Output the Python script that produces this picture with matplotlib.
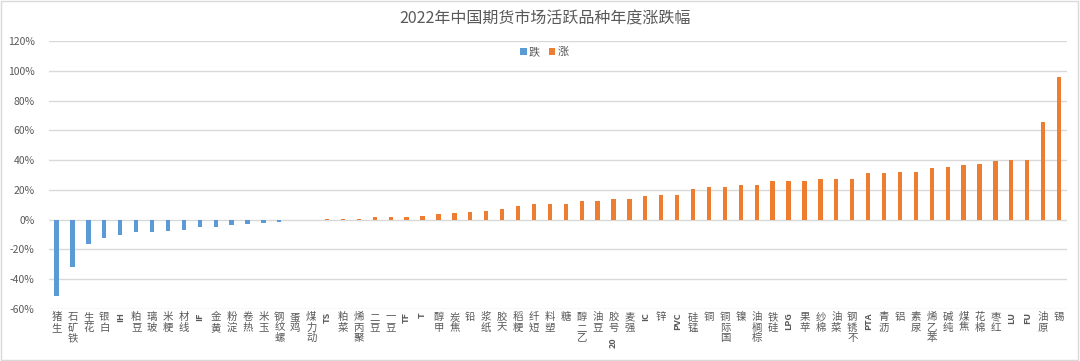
import matplotlib
matplotlib.use("Agg")
import matplotlib.pyplot as plt
from matplotlib.patches import Rectangle
from matplotlib.transforms import blended_transform_factory
import numpy as np

plt.rcParams["font.family"] = ["Noto Sans CJK SC", "DejaVu Sans"]

TITLE = "2022年中国期货市场活跃品种年度涨跌幅"

categories = [
    "生猪", "铁矿石", "花生", "白银", "IH", "豆粕", "玻璃", "粳米", "线材", "IF",
    "黄金", "淀粉", "热卷", "玉米", "螺纹钢", "鸡蛋", "动力煤", "TS", "菜粕", "聚丙烯",
    "豆二", "豆一", "TF", "T", "甲醇", "焦炭", "铅", "纸浆", "天胶", "粳稻",
    "短纤", "塑料", "糖", "乙二醇", "豆油", "20号胶", "强麦", "IC", "锌", "PVC",
    "锰硅", "铜", "国际铜", "镍", "棕榈油", "硅铁", "LPG", "苹果", "棉纱", "菜油",
    "不锈钢", "PTA", "沥青", "铝", "尿素", "苯乙烯", "纯碱", "焦煤", "棉花", "红枣",
    "LU", "FU", "原油", "锡",
]

# annual change, %
changes = [
    -51.0, -31.7, -16.4, -12.6, -10.1, -8.5, -8.5, -7.9, -6.7, -5.2,
    -5.0, -3.4, -2.9, -2.5, -1.6, -0.5, -0.2, 0.6, 0.8, 0.8,
    1.8, 1.8, 1.8, 2.7, 3.8, 4.2, 4.9, 5.6, 7.1, 9.1,
    10.4, 10.4, 10.7, 12.4, 12.4, 13.8, 13.8, 16.2, 16.7, 16.7,
    20.4, 21.8, 22.2, 23.1, 23.1, 25.8, 25.7, 26.3, 27.2, 27.2,
    27.2, 31.2, 31.5, 31.9, 32.4, 34.6, 35.3, 36.6, 37.5, 39.3,
    40.0, 40.4, 65.4, 96.0,
]

y_ticks = list(range(-60, 121, 20))

BLUE = "#5B9BD5"
ORANGE = "#ED7D31"
GRID = "#D9D9D9"
TEXT = "#595959"

x = np.arange(len(categories))
vals = np.array(changes)
down = vals < 0

fig = plt.figure(figsize=(10.8, 3.61), dpi=100)
ax = fig.add_axes([0.045, 0.144, 0.943, 0.742])

ax.bar(x[down], vals[down], width=0.27, color=BLUE, label="跌", zorder=3)
ax.bar(x[~down], vals[~down], width=0.27, color=ORANGE, label="涨", zorder=3)

ax.set_xlim(-0.5, len(categories) - 0.5)
ax.set_ylim(-60, 120)
ax.set_yticks(y_ticks)
ax.set_yticklabels([f"{v}%" for v in y_ticks])
ax.yaxis.grid(True, color=GRID, linewidth=1.0, zorder=0)
ax.tick_params(axis="y", length=0, labelsize=7.5, labelcolor=TEXT, pad=10)
ax.set_xticks([])
for side in ax.spines.values():
    side.set_visible(False)

# category labels read bottom-to-top: chinese chars upright, latin rotated 90
trans = blended_transform_factory(ax.transData, ax.transAxes)
for i, name in enumerate(categories):
    latin = ""
    while name and name[0].isascii():
        latin += name[0]
        name = name[1:]
    y0 = -0.012
    if name:
        ax.text(i, y0, "\n".join(reversed(name)), transform=trans, ha="center",
                va="top", fontsize=7.5, color=TEXT, linespacing=1.05)
        y0 -= 0.045 * len(name) + 0.004
    if latin:
        ax.text(i, y0, latin, transform=trans, rotation=90, ha="center",
                va="top", fontsize=6.5, color=TEXT, fontweight="bold")

fig.text(0.505, 0.948, TITLE, ha="center", va="center", fontsize=11.5, color=TEXT)
fig.legend(loc="center", bbox_to_anchor=(0.504, 0.856), ncol=2, frameon=False,
           handlelength=0.6, handleheight=0.6, handletextpad=0.2, columnspacing=0.8,
           fontsize=8, labelcolor=TEXT)

fig.patches.append(Rectangle((0.001, 0.002), 0.997, 0.995, transform=fig.transFigure,
                             fill=False, edgecolor=GRID, linewidth=1.0))

fig.savefig("out.png", dpi=100)
